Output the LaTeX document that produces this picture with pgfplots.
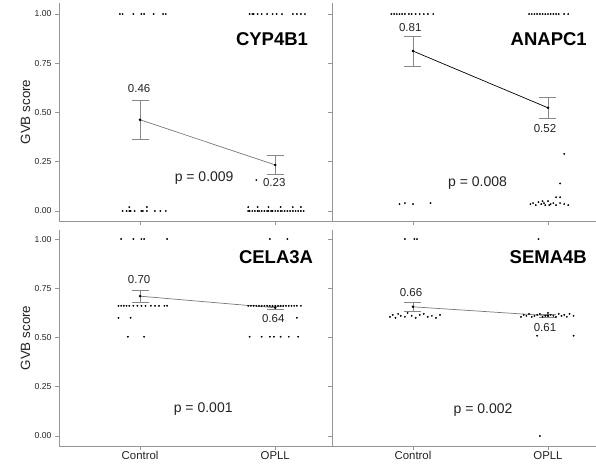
\documentclass[border=0pt]{standalone}
\usepackage{pgfplots}
\pgfplotsset{compat=1.18}
\usepackage{fontspec}
\setmainfont{Liberation Sans}
\definecolor{axgray}{RGB}{150,150,150}
\definecolor{txt}{RGB}{35,35,35}
\definecolor{ebar}{RGB}{135,135,135}
\definecolor{lgray}{RGB}{120,120,120}
\pgfplotsset{
  gvb/.style={
    scale only axis, anchor=south west,
    axis lines=left, axis line style={-, draw=axgray, line width=0.9pt},
    xmin=-0.6, xtick={0,1},
    ytick={0,0.25,0.5,0.75,1},
    tick align=outside, major tick length=4pt,
    tick style={axgray, line width=0.7pt},
    y tick label style={font=\fontsize{8.6}{10}\selectfont, text=txt,
      /pgf/number format/fixed, /pgf/number format/fixed zerofill,
      /pgf/number format/precision=2, /pgf/number format/assume math mode=true},
    x tick label style={font=\fontsize{11.4}{13}\selectfont, text=txt, inner sep=0pt, yshift=-1.5pt},
    every axis y label/.style={at={(axis description cs:-0.123,0.5)}, rotate=90, anchor=center,
      font=\fontsize{13.4}{15}\selectfont, text=txt},
    clip=false,
  },
  pts/.style={only marks, mark=*, mark size=0.7pt, black, mark options={draw=black, fill=black}},
  meanl/.style={draw=#1, line width=0.7pt, mark=*, mark size=0.9pt, mark options={fill=black, draw=black},
    error bars/.cd, y dir=both, y explicit,
    error bar style={ebar, line width=0.9pt},
    error mark options={ebar, rotate=90, mark size=8.5pt, line width=0.9pt}},
}
\tikzset{
  lab/.style={font=\fontsize{11.5}{13}\selectfont, text=txt},
  pval/.style={font=\fontsize{14}{16}\selectfont, text=txt},
  gene/.style={font=\fontsize{18.5}{20}\selectfont\bfseries, text=black, anchor=east, inner sep=0pt},
}
\begin{document}
\begin{tikzpicture}
\useasboundingbox (0pt,0pt) rectangle (596pt,467pt);

% ---------- CYP4B1 ----------
\begin{axis}[gvb, at={(59pt,246pt)}, width=273pt, height=218pt, xmax=1.42,
  ymin=-0.0508, ymax=1.056, xticklabels={}, ylabel={GVB score}]
\addplot[pts] coordinates {
 (-0.15,1)(-0.13,1)(-0.05,1)(0.01,1)(0.03,1)(0.10,1)(0.17,1)(0.19,1)
 (0.81,1)(0.83,1)(0.84,1)(0.87,1)(0.90,1)(0.94,1)(0.98,1)(1.01,1)(1.05,1)(1.13,1)(1.16,1)(1.19,1)(1.22,1)
 (-0.13,0)(-0.10,0)(-0.08,0)(-0.07,0)(-0.04,0)(0.01,0)(0.02,0)(0.05,0)(0.11,0)(0.15,0)(0.19,0)
 (-0.08,0.02)(0.05,0.02)
 (0.80,0)(0.81,0)(0.83,0)(0.85,0)(0.87,0)(0.88,0)(0.90,0)(0.92,0)(0.94,0)(0.95,0)(0.97,0)(0.98,0)
 (1.00,0)(1.02,0)(1.04,0)(1.05,0)(1.07,0)(1.09,0)(1.11,0)(1.13,0)(1.15,0)(1.17,0)(1.19,0)(1.21,0)
 (0.80,0.02)(0.87,0.02)(0.95,0.02)(1.04,0.02)(1.13,0.02)(1.19,0.02)
 (0.86,0.157)
};
\addplot[meanl=lgray] coordinates {(0,0.463) +- (0,0.099) (1,0.234) +- (0,0.048)};
\node[lab] at (axis cs:-0.007,0.624) {0.46};
\node[lab] at (axis cs:0.993,0.142) {0.23};
\node[pval] at (axis cs:0.474,0.168) {p = 0.009};
\node[gene] at (axis cs:1.244,0.871) {CYP4B1};
\end{axis}

% ---------- ANAPC1 ----------
\begin{axis}[gvb, at={(332pt,246pt)}, width=264pt, height=218pt, xmax=1.356,
  ymin=-0.0508, ymax=1.056, xticklabels={}, yticklabels={}]
\addplot[pts] coordinates {
 (-0.16,1)(-0.14,1)(-0.12,1)(-0.10,1)(-0.08,1)(-0.06,1)(-0.03,1)(-0.01,1)(0.02,1)(0.05,1)(0.08,1)(0.11,1)(0.15,1)
 (0.86,1)(0.88,1)(0.90,1)(0.92,1)(0.94,1)(0.96,1)(0.98,1)(1.00,1)(1.02,1)(1.04,1)(1.06,1)(1.08,1)(1.12,1)(1.15,1)
 (-0.10,0.035)(-0.06,0.04)(0.0,0.035)(0.13,0.04)
 (0.87,0.035)(0.89,0.04)(0.91,0.03)(0.93,0.045)(0.95,0.035)(0.97,0.04)(0.98,0.03)(1.00,0.05)
 (1.02,0.035)(1.04,0.04)(1.06,0.03)(1.09,0.04)(1.12,0.035)(1.15,0.03)(0.96,0.05)(1.01,0.03)
 (1.06,0.07)(1.09,0.07)(1.09,0.14)(1.12,0.29)
};
\addplot[meanl=black] coordinates {(0,0.812) +- (0,0.076) (1,0.524) +- (0,0.055)};
\node[lab] at (axis cs:-0.02,0.933) {0.81};
\node[lab] at (axis cs:0.978,0.421) {0.52};
\node[pval] at (axis cs:0.478,0.142) {p = 0.008};
\node[gene] at (axis cs:1.289,0.873) {ANAPC1};
\end{axis}

% ---------- CELA3A ----------
\begin{axis}[gvb, at={(59pt,21pt)}, width=273pt, height=216pt, xmax=1.42,
  ymin=-0.0508, ymax=1.046, xticklabels={Control,OPLL}, ylabel={GVB score}]
\addplot[pts] coordinates {
 (-0.14,1)(-0.05,1)(0.01,1)(0.03,1)(0.20,1)
 (0.96,1)(1.09,1)
 (-0.16,0.661)(-0.14,0.661)(-0.12,0.661)(-0.10,0.661)(-0.08,0.661)(-0.05,0.661)(-0.02,0.661)
 (0.01,0.661)(0.04,0.661)(0.08,0.661)(0.11,0.661)(0.14,0.661)(0.18,0.661)(0.20,0.661)
 (-0.16,0.60)(-0.07,0.60)
 (-0.09,0.504)(0.03,0.504)
 (0.80,0.661)(0.82,0.661)(0.84,0.661)(0.86,0.661)(0.88,0.661)(0.90,0.661)(0.92,0.661)(0.94,0.661)
 (0.96,0.661)(0.98,0.661)(1.00,0.661)(1.02,0.661)(1.04,0.661)(1.06,0.661)(1.08,0.661)(1.10,0.661)
 (1.12,0.661)(1.14,0.661)(1.16,0.661)(1.19,0.661)
 (1.16,0.60)
 (0.81,0.504)(0.90,0.504)(0.96,0.504)(0.99,0.504)(1.04,0.504)(1.10,0.504)(1.17,0.504)
};
\addplot[meanl=lgray] coordinates {(0,0.71) +- (0,0.03) (1,0.651) +- (0,0.008)};
\node[lab] at (axis cs:-0.007,0.792) {0.70};
\node[lab] at (axis cs:0.985,0.594) {0.64};
\node[pval] at (axis cs:0.467,0.137) {p = 0.001};
\node[gene] at (axis cs:1.281,0.909) {CELA3A};
\end{axis}

% ---------- SEMA4B ----------
\begin{axis}[gvb, at={(332pt,21pt)}, width=264pt, height=216pt, xmax=1.356,
  ymin=-0.0508, ymax=1.046, xticklabels={Control,OPLL}, yticklabels={}]
\addplot[pts] coordinates {
 (-0.06,1)(0.01,1)(0.03,1)
 (0.93,1)
 (-0.17,0.605)(-0.15,0.615)(-0.13,0.60)(-0.11,0.62)(-0.09,0.61)(-0.06,0.605)(-0.04,0.625)(-0.01,0.61)
 (0.02,0.60)(0.05,0.615)(0.08,0.62)(0.11,0.605)(0.14,0.61)(0.17,0.60)(0.20,0.615)
 (0.80,0.605)(0.82,0.615)(0.84,0.61)(0.86,0.62)(0.88,0.605)(0.90,0.61)(0.92,0.615)(0.94,0.62)
 (0.96,0.605)(0.98,0.61)(1.00,0.625)(1.02,0.615)(1.04,0.61)(1.06,0.605)(1.08,0.62)(1.10,0.61)
 (1.12,0.615)(1.14,0.605)(1.16,0.62)(1.19,0.61)
 (0.92,0.509)(1.19,0.509)
 (0.94,0)
};
\addplot[meanl=lgray] coordinates {(0,0.656) +- (0,0.024) (1,0.611) +- (0,0.008)};
\node[lab] at (axis cs:-0.015,0.726) {0.66};
\node[lab] at (axis cs:0.978,0.553) {0.61};
\node[pval] at (axis cs:0.519,0.132) {p = 0.002};
\node[gene] at (axis cs:1.289,0.909) {SEMA4B};
\end{axis}
\end{tikzpicture}
\end{document}
